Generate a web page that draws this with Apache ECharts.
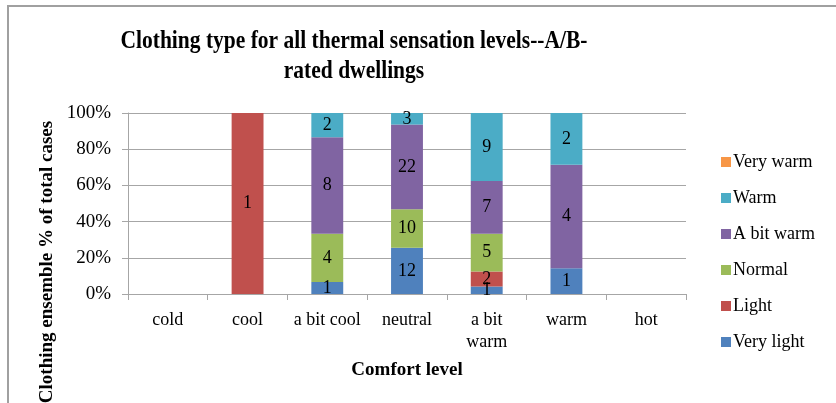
<!DOCTYPE html>
<html>
<head>
<meta charset="utf-8">
<script src="https://cdn.jsdelivr.net/npm/echarts@6/dist/echarts.min.js"></script>
<style>
  html, body { margin: 0; padding: 0; background: #fff; }
  #chart { width: 836px; height: 403px; }
</style>
</head>
<body>
<div id="chart"></div>
<script>
// comfort levels on the x axis
const categories = ['cold', 'cool', 'a bit cool', 'neutral', 'a bit\nwarm', 'warm', 'hot'];
const yTicks = [0, 20, 40, 60, 80, 100];

// number of cases per clothing type
const veryLight = [0, 0, 1, 12, 1, 1, 0];
const light     = [0, 1, 0, 0, 2, 0, 0];
const normal    = [0, 0, 4, 10, 5, 0, 0];
const aBitWarm  = [0, 0, 8, 22, 7, 4, 0];
const warm      = [0, 0, 2, 3, 9, 2, 0];
const veryWarm  = [0, 0, 0, 0, 0, 0, 0];

const seriesNames = ['Very light', 'Light', 'Normal', 'A bit warm', 'Warm', 'Very warm'];
const seriesCounts = [veryLight, light, normal, aBitWarm, warm, veryWarm];
const colors = ['#4F81BD', '#C0504D', '#9BBB59', '#8064A2', '#4BACC6', '#F79646'];

const totals = categories.map((c, i) => seriesCounts.reduce((s, arr) => s + arr[i], 0));

const font = 'Liberation Serif';

const series = seriesNames.map((name, k) => ({
  name: name,
  type: 'bar',
  stack: 'total',
  barWidth: '40%',
  itemStyle: { color: colors[k] },
  label: {
    show: true,
    position: 'inside',
    color: '#000',
    fontFamily: font,
    fontSize: 18,
    formatter: p => String(seriesCounts[k][p.dataIndex])
  },
  data: seriesCounts[k].map((v, i) => v > 0 ? v / totals[i] * 100 : null)
}));

const chart = echarts.init(document.getElementById('chart'));
chart.setOption({
  animation: false,
  color: colors,
  legend: {
    orient: 'vertical',
    left: 716,
    top: 148,
    itemWidth: 10,
    itemHeight: 10,
    itemGap: 18,
    icon: 'rect',
    data: ['Very warm', 'Warm', 'A bit warm', 'Normal', 'Light', 'Very light'],
    textStyle: { fontFamily: font, fontSize: 18, color: '#000', padding: [0, 0, 0, -3] }
  },
  grid: { left: 128, right: 150, top: 113, bottom: 109 },
  xAxis: {
    type: 'category',
    data: categories,
    name: 'Comfort level',
    nameLocation: 'middle',
    nameGap: 67,
    nameTextStyle: { fontFamily: font, fontWeight: 'bold', fontSize: 19, color: '#000' },
    axisLine: { lineStyle: { color: '#a6a6a6', width: 1 } },
    axisTick: { show: true, length: 6, lineStyle: { color: '#a6a6a6' } },
    axisLabel: { interval: 0, fontFamily: font, fontSize: 18, color: '#000', margin: 15, lineHeight: 22 }
  },
  yAxis: {
    type: 'value',
    min: yTicks[0],
    max: yTicks[yTicks.length - 1],
    interval: yTicks[1] - yTicks[0],
    axisLine: { show: true, lineStyle: { color: '#a6a6a6' } },
    axisTick: { show: true, length: 6, lineStyle: { color: '#a6a6a6' } },
    splitLine: { lineStyle: { color: '#a6a6a6' } },
    axisLabel: { fontFamily: font, fontSize: 19, color: '#000', margin: 17, formatter: '{value}%' }
  },
  graphic: [
    {
      type: 'rect',
      shape: { x: 8, y: 6, width: 900, height: 500 },
      style: { fill: 'none', stroke: '#a0a0a0', lineWidth: 2 },
      silent: true
    },
    {
      type: 'text',
      x: 354,
      y: 57,
      scaleX: 0.86,
      style: {
        text: 'Clothing type for all thermal sensation levels--A/B-\nrated dwellings',
        fontFamily: font,
        fontWeight: 'bold',
        fontSize: 25,
        lineHeight: 30,
        fill: '#000',
        align: 'center',
        verticalAlign: 'middle'
      }
    },
    {
      type: 'text',
      x: 47,
      y: 262,
      rotation: Math.PI / 2,
      style: {
        text: 'Clothing ensemble % of total cases',
        fontFamily: font,
        fontWeight: 'bold',
        fontSize: 19,
        fill: '#000',
        align: 'center',
        verticalAlign: 'middle'
      }
    }
  ],
  series: series
});
</script>
</body>
</html>
